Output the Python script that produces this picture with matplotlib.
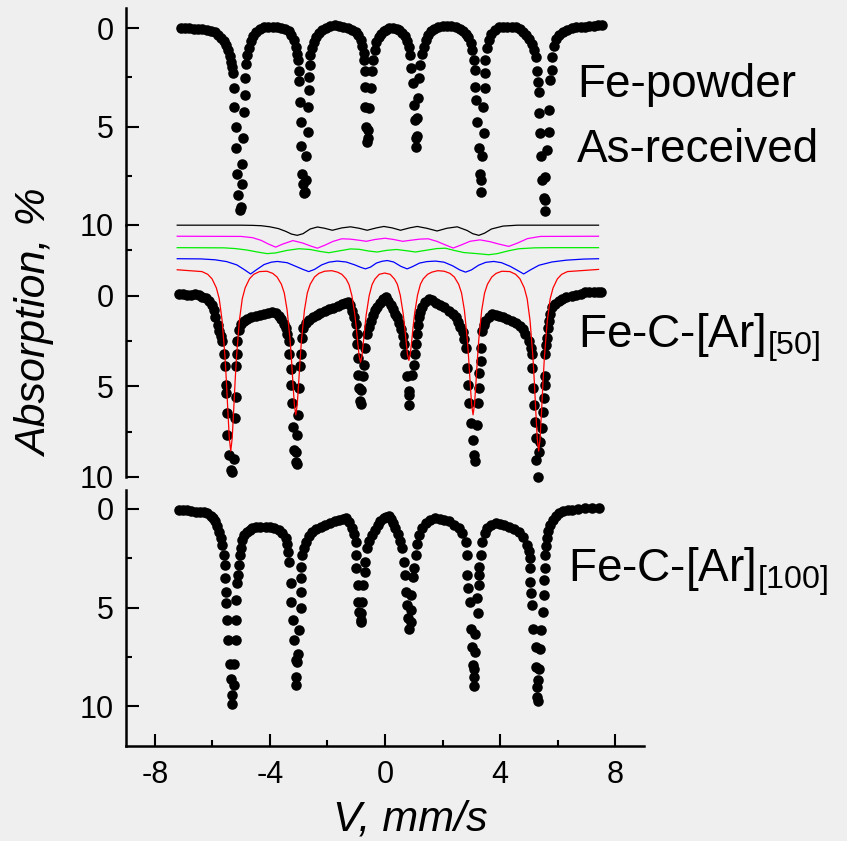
import matplotlib
matplotlib.use("Agg")
from matplotlib import pyplot as plt
from matplotlib.ticker import MultipleLocator

plt.rcParams['font.family'] = ['Liberation Sans', 'DejaVu Sans']
plt.rcParams['mathtext.fontset'] = 'custom'
plt.rcParams['mathtext.rm'] = 'Liberation Sans'
plt.rcParams['mathtext.default'] = 'regular'
plt.rcParams['axes.unicode_minus'] = False

########################## data ##########################
# (velocity mm/s, absorption %)
powder = [
    (-7.1, 0.0), (-6.95, 0.0), (-6.8, 0.02), (-6.65, 0.04), (-6.5, 0.05), (-6.35, 0.07), (-6.2, 0.1),
    (-6.05, 0.15), (-5.92, 0.22), (-5.8, 0.35), (-5.7, 0.5), (-5.6, 0.65), (-5.52, 0.85), (-5.45, 1.1),
    (-5.39, 1.4), (-5.34, 1.7),
    (-5.31, 1.96), (-5.28, 2.3), (-5.25, 3.06), (-5.23, 4.0), (-5.19, 5.0), (-5.17, 6.1), (-5.13, 7.4),
    (-5.11, 8.5), (-5.05, 9.24),
    (-5.0, 9.1), (-4.98, 7.9), (-4.96, 6.9), (-4.94, 5.6), (-4.9, 4.25), (-4.87, 3.4), (-4.85, 2.55), (-4.83, 1.8),
    (-4.78, 1.35), (-4.73, 1.0), (-4.67, 0.65), (-4.58, 0.38), (-4.48, 0.2), (-4.35, 0.06), (-4.2, -0.03),
    (-4.05, -0.07), (-3.9, -0.08), (-3.75, -0.06), (-3.6, -0.02), (-3.47, 0.05), (-3.35, 0.15), (-3.25, 0.35),
    (-3.17, 0.6), (-3.1, 0.95), (-3.05, 1.3),
    (-3.02, 1.62), (-3.0, 2.2), (-2.98, 2.7), (-2.95, 3.74), (-2.93, 4.75), (-2.91, 6.0), (-2.9, 7.4),
    (-2.86, 7.9), (-2.83, 8.4),
    (-2.78, 8.3), (-2.76, 7.7), (-2.74, 6.5), (-2.68, 5.26), (-2.67, 4.0), (-2.65, 3.15), (-2.63, 2.47),
    (-2.62, 1.88), (-2.59, 1.37),
    (-2.55, 1.0), (-2.48, 0.7), (-2.4, 0.44), (-2.3, 0.25), (-2.18, 0.1), (-2.05, -0.02), (-1.9, -0.12),
    (-1.75, -0.15), (-1.6, -0.13), (-1.45, -0.08), (-1.3, 0.0), (-1.15, 0.08), (-1.02, 0.2), (-0.93, 0.35),
    (-0.85, 0.6), (-0.79, 0.9), (-0.74, 1.28),
    (-0.72, 1.62), (-0.71, 2.2), (-0.69, 2.98), (-0.68, 4.0), (-0.65, 5.0), (-0.62, 5.8),
    (-0.58, 5.6), (-0.58, 5.18), (-0.54, 4.08), (-0.5, 3.06), (-0.46, 2.2), (-0.41, 1.6),
    (-0.36, 1.1), (-0.3, 0.7), (-0.22, 0.45), (-0.15, 0.3), (-0.05, 0.15), (0.05, 0.08), (0.15, 0.02),
    (0.28, 0.0), (0.4, 0.04), (0.5, 0.12), (0.6, 0.25), (0.68, 0.42), (0.76, 0.65), (0.83, 0.95), (0.88, 1.35),
    (0.91, 2.05), (0.96, 2.8), (1.0, 3.9), (1.04, 4.67), (1.07, 5.6), (1.08, 6.02),
    (1.12, 5.5), (1.1, 4.59), (1.15, 3.57), (1.18, 2.55), (1.23, 1.88),
    (1.28, 1.3), (1.34, 0.95), (1.41, 0.6), (1.5, 0.35), (1.6, 0.15), (1.72, 0.04), (1.85, -0.06),
    (2.0, -0.12), (2.15, -0.13), (2.3, -0.1), (2.45, -0.03), (2.6, 0.05), (2.72, 0.15), (2.82, 0.3),
    (2.9, 0.45), (2.98, 0.75), (3.04, 1.12),
    (3.1, 1.6), (3.12, 2.13), (3.14, 2.98), (3.17, 3.65), (3.2, 4.75), (3.26, 6.1), (3.29, 7.4), (3.32, 8.3),
    (3.35, 7.7), (3.38, 6.5), (3.43, 5.35), (3.4, 4.0), (3.47, 3.06), (3.46, 2.3), (3.49, 1.62),
    (3.53, 1.0), (3.6, 0.6), (3.7, 0.3), (3.82, 0.1), (3.95, -0.03), (4.1, -0.07), (4.25, -0.08),
    (4.4, -0.07), (4.55, -0.03), (4.68, 0.05), (4.8, 0.18), (4.9, 0.35), (5.0, 0.55), (5.1, 0.8),
    (5.18, 1.1), (5.24, 1.45),
    (5.28, 2.2), (5.31, 2.72), (5.34, 3.23), (5.36, 4.33), (5.4, 5.35), (5.43, 6.5), (5.46, 7.7),
    (5.51, 8.65), (5.55, 9.3),
    (5.57, 8.73), (5.57, 7.55), (5.63, 6.19), (5.69, 5.26), (5.69, 4.16), (5.75, 2.64), (5.8, 2.13), (5.82, 1.45),
    (5.87, 0.9), (5.95, 0.55), (6.05, 0.35), (6.18, 0.2), (6.32, 0.1), (6.5, 0.02), (6.65, -0.03),
    (6.8, -0.06), (6.96, -0.07), (7.1, -0.1), (7.25, -0.12), (7.4, -0.14), (7.55, -0.15),
]

ar50 = [
    (-7.16, -0.09), (-7.02, -0.08), (-6.88, -0.06), (-6.74, -0.06), (-6.6, -0.07), (-6.47, -0.05),
    (-6.35, 0.05), (-6.22, 0.15), (-6.12, 0.28), (-6.02, 0.5), (-5.94, 0.8), (-5.89, 1.2), (-5.82, 1.6),
    (-5.77, 1.94), (-5.7, 2.25), (-5.65, 2.5),
    (-5.6, 3.24), (-5.56, 3.89), (-5.54, 4.91), (-5.51, 5.37), (-5.48, 6.48), (-5.48, 7.69), (-5.42, 8.8),
    (-5.36, 9.63),
    (-5.3, 9.7), (-5.25, 8.98), (-5.21, 6.76), (-5.19, 5.56), (-5.17, 3.89), (-5.16, 3.24), (-5.13, 2.5),
    (-5.08, 1.9), (-5.0, 1.55), (-4.9, 1.39), (-4.78, 1.3), (-4.65, 1.2), (-4.5, 1.12), (-4.35, 1.05),
    (-4.2, 1.0), (-4.05, 0.95), (-3.92, 0.9), (-3.8, 0.95), (-3.7, 1.1), (-3.6, 1.3), (-3.52, 1.55),
    (-3.45, 1.8), (-3.39, 2.1), (-3.34, 2.5),
    (-3.32, 3.24), (-3.28, 4.07), (-3.25, 4.91), (-3.22, 5.93), (-3.2, 7.22), (-3.17, 8.52), (-3.11, 9.17),
    (-3.06, 9.3), (-3.08, 8.61), (-3.05, 7.69), (-3.01, 6.57), (-2.99, 5.09), (-2.96, 3.89), (-2.93, 3.24),
    (-2.9, 2.31),
    (-2.84, 1.76), (-2.75, 1.5), (-2.65, 1.35), (-2.5, 1.2), (-2.38, 1.08), (-2.25, 0.98), (-2.1, 0.85),
    (-1.95, 0.74), (-1.8, 0.66), (-1.65, 0.57), (-1.5, 0.48), (-1.38, 0.38), (-1.3, 0.35), (-1.22, 0.5),
    (-1.14, 0.83), (-1.07, 1.2), (-1.02, 1.57), (-0.98, 2.13),
    (-0.97, 2.69), (-0.93, 3.43), (-0.93, 4.35), (-0.91, 5.09), (-0.87, 5.83), (-0.84, 6.0),
    (-0.82, 5.19), (-0.77, 4.44), (-0.74, 3.8), (-0.68, 2.87),
    (-0.62, 2.13), (-0.56, 1.7), (-0.5, 1.39), (-0.42, 1.05), (-0.34, 0.8), (-0.27, 0.6), (-0.18, 0.4),
    (-0.08, 0.2), (0.02, 0.09), (0.12, 0.3), (0.2, 0.5), (0.28, 0.75), (0.36, 1.0), (0.43, 1.2), (0.5, 1.5),
    (0.56, 1.85), (0.62, 2.2),
    (0.65, 2.69), (0.69, 3.24), (0.77, 4.44), (0.83, 5.28), (0.85, 6.02),
    (0.85, 5.46), (0.94, 4.35), (1.0, 3.8), (1.03, 3.24), (1.06, 2.69),
    (1.1, 2.1), (1.14, 1.6), (1.17, 1.2), (1.22, 0.9), (1.29, 0.65), (1.4, 0.35), (1.52, 0.19), (1.65, 0.25),
    (1.78, 0.38), (1.9, 0.5), (2.05, 0.62), (2.22, 0.83), (2.35, 1.0), (2.45, 1.2), (2.53, 1.45), (2.62, 1.7),
    (2.7, 2.0), (2.76, 2.4), (2.8, 2.87),
    (2.85, 3.98), (2.89, 4.91), (2.91, 5.93), (3.0, 7.04), (3.05, 7.96), (3.08, 8.8), (3.12, 9.1),
    (3.2, 7.13), (3.24, 5.93), (3.26, 5.09), (3.28, 4.26), (3.32, 3.61), (3.35, 2.87),
    (3.38, 1.94), (3.43, 1.6), (3.49, 1.39), (3.6, 1.15), (3.72, 1.02), (3.85, 1.05), (3.97, 1.12), (4.1, 1.2),
    (4.25, 1.28), (4.42, 1.39), (4.55, 1.5), (4.68, 1.65), (4.78, 1.85), (4.88, 2.1), (4.99, 2.5), (5.06, 2.9),
    (5.11, 3.24),
    (5.11, 3.98), (5.15, 5.09), (5.17, 6.02), (5.2, 6.94), (5.23, 7.87), (5.25, 9.07), (5.32, 10.0),
    (5.36, 8.61), (5.4, 8.06), (5.46, 7.32), (5.48, 6.39), (5.51, 5.65), (5.55, 4.91), (5.55, 4.44), (5.57, 3.24),
    (5.6, 2.7), (5.63, 2.31), (5.66, 1.8), (5.69, 1.39), (5.74, 1.0), (5.8, 0.65), (5.9, 0.45), (6.03, 0.28),
    (6.15, 0.17), (6.3, 0.08), (6.5, 0.0), (6.65, -0.06), (6.8, -0.12), (6.96, -0.19), (7.1, -0.2),
    (7.25, -0.2), (7.4, -0.21), (7.5, -0.22),
]

ar100 = [
    (-7.16, 0.05), (-7.02, 0.06), (-6.88, 0.08), (-6.74, 0.1), (-6.58, 0.14), (-6.44, 0.16), (-6.3, 0.18),
    (-6.17, 0.22), (-6.05, 0.35), (-5.96, 0.48), (-5.89, 0.64), (-5.83, 0.88), (-5.77, 1.15), (-5.71, 1.5),
    (-5.65, 1.83), (-5.6, 2.34),
    (-5.56, 2.84), (-5.56, 3.52), (-5.54, 4.2), (-5.51, 4.79), (-5.48, 5.63), (-5.44, 6.65), (-5.4, 7.83),
    (-5.34, 8.6), (-5.33, 9.44), (-5.31, 9.86),
    (-5.25, 8.93), (-5.25, 7.83), (-5.19, 6.65), (-5.19, 5.63), (-5.17, 4.62), (-5.13, 3.77), (-5.1, 3.35),
    (-5.08, 2.84),
    (-5.05, 2.35), (-5.02, 2.0), (-4.96, 1.6), (-4.9, 1.32), (-4.8, 1.15), (-4.7, 1.05), (-4.61, 0.98),
    (-4.48, 0.93), (-4.33, 0.9), (-4.15, 0.9), (-4.0, 0.93), (-3.85, 0.98), (-3.69, 1.07), (-3.57, 1.25),
    (-3.45, 1.49), (-3.4, 1.8), (-3.36, 2.17),
    (-3.34, 2.68), (-3.28, 3.77), (-3.25, 4.71), (-3.2, 5.63), (-3.17, 6.65), (-3.11, 7.66), (-3.11, 8.51),
    (-3.08, 8.93),
    (-3.05, 7.75), (-3.01, 7.33), (-2.99, 6.14), (-2.93, 5.04), (-2.93, 4.2), (-2.93, 3.52), (-2.93, 2.93),
    (-2.88, 2.34), (-2.82, 2.0), (-2.76, 1.66), (-2.65, 1.38), (-2.53, 1.15), (-2.4, 1.02), (-2.24, 0.9),
    (-2.07, 0.81), (-1.9, 0.72), (-1.75, 0.64), (-1.6, 0.56), (-1.47, 0.5), (-1.37, 0.47), (-1.25, 0.65),
    (-1.14, 0.98), (-1.07, 1.3), (-1.02, 1.66), (-1.0, 2.34),
    (-1.0, 3.01), (-0.93, 3.86), (-0.93, 4.71), (-0.89, 5.21), (-0.85, 5.63), (-0.83, 5.74),
    (-0.82, 5.29), (-0.79, 4.71), (-0.77, 3.86), (-0.7, 3.18), (-0.68, 2.68),
    (-0.62, 2.0), (-0.55, 1.65), (-0.44, 1.32), (-0.35, 1.05), (-0.25, 0.82), (-0.16, 0.64), (-0.05, 0.48),
    (0.05, 0.4), (0.13, 0.39), (0.2, 0.5), (0.28, 0.72), (0.36, 0.98), (0.45, 1.3), (0.53, 1.65), (0.6, 2.0),
    (0.65, 2.68),
    (0.71, 3.35), (0.74, 4.2), (0.77, 4.87), (0.81, 5.55), (0.83, 6.06),
    (0.89, 5.72), (0.89, 5.13), (0.92, 4.37), (0.97, 3.44), (1.0, 3.01),
    (1.06, 2.34), (1.1, 1.8), (1.17, 1.32), (1.28, 0.98), (1.41, 0.73), (1.58, 0.56), (1.75, 0.47),
    (1.9, 0.5), (2.05, 0.56), (2.22, 0.64), (2.4, 0.8), (2.56, 0.98), (2.68, 1.25), (2.8, 1.66), (2.85, 2.34),
    (2.85, 3.35), (2.89, 4.03), (2.97, 4.71), (3.0, 6.06), (3.03, 6.99), (3.05, 7.92), (3.08, 8.51), (3.1, 8.95),
    (3.08, 8.09), (3.12, 7.24), (3.14, 6.31), (3.24, 5.29), (3.2, 4.53), (3.26, 3.86), (3.28, 3.35), (3.26, 2.93),
    (3.32, 2.34), (3.38, 1.66), (3.46, 1.25), (3.55, 0.98), (3.7, 0.8), (3.84, 0.73), (4.0, 0.75), (4.15, 0.8),
    (4.3, 0.9), (4.48, 1.0), (4.65, 1.15), (4.8, 1.45), (4.94, 1.83), (5.0, 2.15), (5.05, 2.5),
    (5.05, 3.0), (5.05, 3.69), (5.09, 4.28), (5.11, 4.87), (5.13, 6.06), (5.23, 6.99), (5.25, 8.0),
    (5.28, 9.02), (5.28, 9.53), (5.3, 9.7),
    (5.32, 8.68), (5.36, 8.09), (5.4, 7.07), (5.43, 6.14), (5.48, 5.21), (5.51, 4.37), (5.51, 3.6), (5.55, 3.01),
    (5.57, 2.34), (5.6, 1.9), (5.63, 1.49), (5.68, 1.1), (5.75, 0.81), (5.85, 0.55), (5.95, 0.35), (6.03, 0.22),
    (6.2, 0.12), (6.35, 0.08), (6.5, 0.05), (6.7, 0.02), (6.96, -0.03), (7.2, -0.03), (7.42, -0.03),
]

# fitted sub-spectra of Fe-C-[Ar]50 (drawn shifted above the data)
fit_red = [
    (-7.22, -1.43), (-6.36, -1.33), (-6.16, -1.18), (-6.01, -0.93), (-5.86, -0.43), (-5.76, 0.17),
    (-5.66, 1.37), (-5.56, 3.37), (-5.51, 4.77), (-5.46, 6.37), (-5.41, 7.87), (-5.36, 8.57), (-5.31, 7.87),
    (-5.26, 6.37), (-5.21, 4.77), (-5.16, 3.37), (-5.06, 1.37), (-4.96, 0.17), (-4.86, -0.43), (-4.71, -0.93),
    (-4.56, -1.18), (-4.36, -1.33),
    (-4.1, -1.35), (-3.9, -1.23), (-3.75, -1.03), (-3.6, -0.63), (-3.5, -0.15), (-3.4, 0.81), (-3.3, 2.41),
    (-3.25, 3.53), (-3.2, 4.81), (-3.15, 6.01), (-3.1, 6.57), (-3.05, 6.01), (-3.0, 4.81), (-2.95, 3.53),
    (-2.9, 2.41), (-2.8, 0.81), (-2.7, -0.15), (-2.6, -0.63), (-2.45, -1.03), (-2.3, -1.23), (-2.1, -1.35),
    (-1.85, -1.38), (-1.65, -1.3), (-1.5, -1.18), (-1.35, -0.92), (-1.25, -0.61), (-1.15, 0.0), (-1.05, 1.02),
    (-1.0, 1.73), (-0.95, 2.55), (-0.9, 3.31), (-0.85, 3.67), (-0.8, 3.31), (-0.75, 2.55), (-0.7, 1.73),
    (-0.65, 1.02), (-0.55, 0.0), (-0.45, -0.61), (-0.35, -0.92), (-0.2, -1.18), (-0.01, -1.25),
    (0.18, -1.18), (0.33, -0.92), (0.43, -0.63), (0.53, -0.03), (0.63, 0.97), (0.68, 1.67), (0.73, 2.47),
    (0.78, 3.22), (0.83, 3.57), (0.88, 3.22), (0.93, 2.47), (0.98, 1.67), (1.03, 0.97), (1.13, -0.03),
    (1.23, -0.63), (1.33, -0.93), (1.48, -1.18), (1.63, -1.3), (1.83, -1.38),
    (2.06, -1.35), (2.26, -1.23), (2.41, -1.03), (2.56, -0.63), (2.66, -0.15), (2.76, 0.81), (2.86, 2.41),
    (2.91, 3.53), (2.96, 4.81), (3.01, 6.01), (3.06, 6.57), (3.11, 6.01), (3.16, 4.81), (3.21, 3.53),
    (3.26, 2.41), (3.36, 0.81), (3.46, -0.15), (3.56, -0.63), (3.71, -1.03), (3.86, -1.23), (4.06, -1.35),
    (4.34, -1.33), (4.54, -1.18), (4.69, -0.93), (4.84, -0.43), (4.94, 0.17), (5.04, 1.37), (5.14, 3.37),
    (5.19, 4.77), (5.24, 6.37), (5.29, 7.87), (5.34, 8.57), (5.39, 7.87), (5.44, 6.37), (5.49, 4.77),
    (5.54, 3.37), (5.64, 1.37), (5.74, 0.17), (5.84, -0.43), (5.99, -0.93), (6.14, -1.18), (6.34, -1.33),
    (7.42, -1.45),
]

fit_blue = [
    (-7.22, -2.04), (-6.4, -2.03), (-5.9, -1.98), (-5.5, -1.88), (-5.15, -1.7), (-4.9, -1.45), (-4.67, -1.2),
    (-4.45, -1.45), (-4.2, -1.72), (-3.95, -1.85), (-3.74, -1.89), (-3.4, -1.82), (-3.1, -1.62), (-2.85, -1.45),
    (-2.65, -1.33), (-2.45, -1.45), (-2.2, -1.7), (-1.95, -1.85), (-1.66, -1.91), (-1.35, -1.86), (-1.05, -1.7),
    (-0.85, -1.57), (-0.68, -1.48), (-0.5, -1.58), (-0.3, -1.8), (-0.1, -1.9), (0.08, -1.94), (0.3, -1.86),
    (0.55, -1.62), (0.77, -1.48), (0.95, -1.6), (1.2, -1.8), (1.45, -1.88), (1.75, -1.91), (2.05, -1.85),
    (2.35, -1.65), (2.6, -1.42), (2.8, -1.3), (3.0, -1.42), (3.25, -1.68), (3.5, -1.84), (3.78, -1.89),
    (4.05, -1.82), (4.35, -1.62), (4.6, -1.4), (4.82, -1.2), (5.05, -1.42), (5.35, -1.68), (5.8, -1.86),
    (6.3, -1.96), (6.9, -2.02), (7.42, -2.04),
]

fit_green = [
    (-7.22, -2.65), (-5.6, -2.64), (-5.2, -2.6), (-4.8, -2.52), (-4.4, -2.4), (-4.09, -2.32), (-3.8, -2.36),
    (-3.4, -2.5), (-3.0, -2.59), (-2.6, -2.55), (-2.25, -2.44), (-1.95, -2.37), (-1.6, -2.47), (-1.2, -2.58),
    (-0.9, -2.56), (-0.55, -2.46), (-0.27, -2.41), (0.05, -2.5), (0.4, -2.55), (0.75, -2.48), (1.06, -2.41),
    (1.4, -2.5), (1.8, -2.6), (2.1, -2.62), (2.4, -2.5), (2.74, -2.38), (3.05, -2.34), (3.35, -2.3),
    (3.6, -2.26), (3.9, -2.32), (4.3, -2.48), (4.65, -2.59), (5.2, -2.64), (5.8, -2.65), (7.42, -2.65),
]

fit_magenta = [
    (-7.22, -3.28), (-5.0, -3.27), (-4.6, -3.2), (-4.3, -3.05), (-4.05, -2.85), (-3.8, -2.68), (-3.55, -2.85),
    (-3.2, -3.04), (-2.85, -2.9), (-2.6, -2.75), (-2.35, -2.62), (-2.1, -2.78), (-1.8, -3.0), (-1.5, -3.14),
    (-1.2, -3.12), (-0.9, -3.06), (-0.65, -3.0), (-0.35, -3.1), (0.0, -3.17), (0.3, -3.1), (0.62, -3.0),
    (0.9, -3.06), (1.2, -3.12), (1.5, -3.14), (1.8, -3.0), (2.1, -2.8), (2.37, -2.63), (2.65, -2.8),
    (2.95, -3.0), (3.3, -3.08), (3.65, -2.98), (3.95, -2.85), (4.3, -2.72), (4.6, -2.9), (4.95, -3.15),
    (5.4, -3.27), (7.42, -3.28),
]

fit_black = [
    (-7.22, -3.89), (-5.0, -3.89), (-4.6, -3.88), (-4.3, -3.86), (-4.0, -3.8), (-3.7, -3.7), (-3.45, -3.55),
    (-3.25, -3.4), (-3.05, -3.33), (-2.85, -3.42), (-2.6, -3.68), (-2.35, -3.79), (-2.1, -3.72), (-1.83, -3.61),
    (-1.5, -3.74), (-1.2, -3.8), (-0.9, -3.72), (-0.62, -3.61), (-0.3, -3.74), (-0.04, -3.82), (0.25, -3.74),
    (0.54, -3.61), (0.85, -3.74), (1.12, -3.82), (1.45, -3.72), (1.81, -3.57), (2.15, -3.72), (2.51, -3.8),
    (2.85, -3.6), (3.05, -3.42), (3.26, -3.33), (3.46, -3.45), (3.7, -3.68), (4.1, -3.84), (4.6, -3.89),
    (7.42, -3.89),
]

x_ticks = [-8, -4, 0, 4, 8]
y_ticks = [0, 5, 10]

#################################################################################

W, H = 847, 841
bg = '#efefef'
fig = plt.figure(figsize=(W / 100, H / 100), dpi=100, facecolor=bg)

left = 126 / W
width = 518 / W


def make_axes(top_px, bottom_px, ylim):
    ax = fig.add_axes([left, 1 - bottom_px / H, width, (bottom_px - top_px) / H])
    ax.set_facecolor('none')
    ax.set_xlim(-9, 9)
    ax.set_ylim(ylim)
    for s in ['top', 'right', 'bottom']:
        ax.spines[s].set_visible(False)
    ax.spines['left'].set_linewidth(1.8)
    ax.yaxis.set_major_locator(MultipleLocator(5))
    ax.yaxis.set_minor_locator(MultipleLocator(2.5))
    ax.tick_params(axis='y', which='major', direction='in', length=9, width=1.5,
                   labelsize=22, pad=9)
    ax.tick_params(axis='y', which='minor', direction='in', length=4.5, width=1.5)
    ax.set_xticks([])
    ax.xaxis.set_minor_locator(plt.NullLocator())
    return ax


ax1 = make_axes(8, 225, (10, -1.02))
ax2 = make_axes(225, 477, (10, -3.9))
ax3 = make_axes(490, 746, (12.0, -0.95))

ax1.set_yticks(y_ticks)
ax2.set_yticks(y_ticks)
ax3.set_yticks(y_ticks)

# bottom axis on the lowest panel only
ax3.spines['bottom'].set_visible(True)
ax3.spines['bottom'].set_linewidth(1.8)
ax3.set_xticks(x_ticks)
ax3.xaxis.set_minor_locator(MultipleLocator(2))
ax3.tick_params(axis='x', which='major', direction='in', length=9, width=1.5,
                labelsize=22, pad=10)
ax3.tick_params(axis='x', which='minor', direction='in', length=4.5, width=1.5)

for ax, spec in [(ax1, powder), (ax2, ar50), (ax3, ar100)]:
    xs = [p[0] for p in spec]
    ys = [p[1] for p in spec]
    ax.plot(xs, ys, 'o', color='black', markersize=7.6, markeredgewidth=0, clip_on=False, zorder=2)

for curve, col in [(fit_black, 'black'), (fit_magenta, '#ff00ff'), (fit_green, '#00ee00'),
                   (fit_blue, '#0000ff'), (fit_red, '#ff0000')]:
    ax2.plot([p[0] for p in curve], [p[1] for p in curve], '-', color=col, lw=0.9,
             clip_on=False, zorder=3)

# sample labels
fig.text(577 / W, 1 - 85 / H, 'Fe-powder', fontsize=33, va='center', ha='left')
fig.text(577 / W, 1 - 150 / H, 'As-received', fontsize=33, va='center', ha='left')
fig.text(578 / W, 1 - 338 / H, 'Fe-C-[Ar]$_{[50]}$', fontsize=33, va='center', ha='left')
fig.text(568 / W, 1 - 572 / H, 'Fe-C-[Ar]$_{[100]}$', fontsize=33, va='center', ha='left')

fig.text(36 / W, 1 - 323 / H, 'Absorption, %', fontsize=31, style='italic',
         rotation=90, va='center', ha='center')
fig.text(410 / W, 1 - 820 / H, 'V, mm/s', fontsize=31, style='italic',
         va='center', ha='center')

fig.savefig('out.png', dpi=100, facecolor=bg)
